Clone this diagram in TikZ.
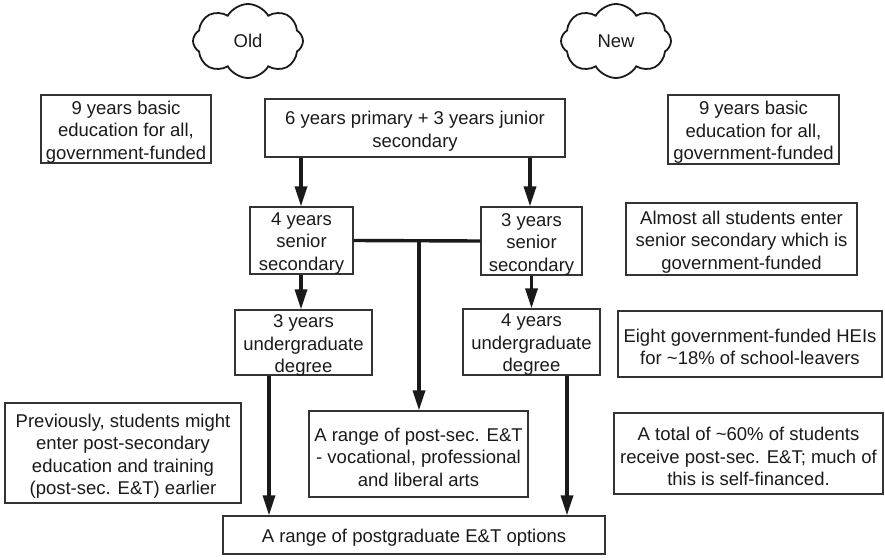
\documentclass[tikz,border=0pt]{standalone}
\usepackage{fontspec}
\setmainfont{Liberation Sans}
\usetikzlibrary{arrows.meta,shapes.symbols}
\definecolor{ink}{HTML}{1A1A1A}
\definecolor{frame}{HTML}{333333}
\tikzset{
  boxframe/.style={draw=frame, line width=1.2pt, inner sep=0pt},
  boxtext/.style={align=center, inner sep=0pt, text=ink,
    font=\fontsize{18.5}{22.5}\selectfont},
  flow/.style={line width=3.4pt, draw=ink, -{Triangle[length=20pt,width=12pt]}},
  link/.style={line width=3.4pt, draw=ink},
  bubble/.style={cloud, cloud puffs=8, cloud puff arc=120, cloud ignores aspect,
    draw=ink, line width=1.8pt, minimum width=110pt, minimum height=74pt,
    inner sep=0pt, text=ink, font=\fontsize{18.5}{22.5}\selectfont}
}
% name, center x, center y, width, height, text
\newcommand{\bx}[6]{%
  \node[boxframe, minimum width=#4pt, minimum height=#5pt] (#1) at (#2,#3) {};
  \node[boxtext] (#1-t) at ([yshift=-3pt]#1.center) {#6};}
\begin{document}
\begin{tikzpicture}[x=1pt,y=-1pt]
\useasboundingbox (0,0) rectangle (885,559);

% clouds
\node[bubble] (old) at (248,41) {Old};
\node[bubble] (new) at (616,41) {New};

% top row
\bx{basicL}{126}{129}{170}{68}{9 years basic\\education for all,\\government-funded}
\bx{basicR}{753.5}{129.5}{171}{69}{9 years basic\\education for all,\\government-funded}
\bx{junior}{415}{128}{300}{58}{6 years primary + 3 years junior\\secondary}

% senior secondary
\bx{sen4}{301.5}{240.5}{103}{67}{4 years\\senior\\secondary}
\bx{sen3}{531.5}{241}{101}{68}{3 years\\senior\\secondary}
\bx{almost}{741.5}{239}{231}{72}{Almost all students enter\\senior secondary which is\\government-funded}

% undergraduate
\bx{ug3}{303.5}{342.5}{137}{65}{3 years\\undergraduate\\degree}
\bx{ug4}{531.5}{342}{137}{66}{4 years\\undergraduate\\degree}
\bx{eight}{750}{344}{264}{66}{Eight government-funded HEIs\\for \textasciitilde18\% of school-leavers}

% post-secondary
\bx{prev}{123}{453}{236}{100}{Previously, students might\\enter post-secondary\\education and training\\(post-sec. E\&T) earlier}
\bx{postsec}{418.5}{454}{219}{86}{A range of post-sec. E\&T\\- vocational, professional\\and liberal arts}
\bx{total}{748.5}{453.5}{269}{81}{A total of \textasciitilde60\% of students\\receive post-sec. E\&T; much of\\this is self-financed.}

% postgraduate
\bx{pg}{414}{535}{382}{38}{A range of postgraduate E\&T options}

% connectors
\coordinate (xl) at (301,0);
\coordinate (xr) at (530,0);
\coordinate (xm) at (419,0);
\coordinate (xa) at (269,0);
\coordinate (xb) at (567,0);

\draw[flow] (junior.south -| xl) -- (sen4.north -| xl);
\draw[flow] (junior.south -| xr) -- (sen3.north -| xr);
\draw[flow] (sen4.south -| xl) -- (ug3.north -| xl);
\draw[flow] (sen3.south -| sen3.center) -- (ug4.north -| sen3.center);
\draw[link] (sen4.east) -- (sen3.west);
\draw[flow] (sen4.east -| xm) -- (postsec.north -| xm);
\draw[flow] (ug3.south -| xa) -- (pg.north -| xa);
\draw[flow] (ug4.south -| xb) -- (pg.north -| xb);
\end{tikzpicture}
\end{document}
